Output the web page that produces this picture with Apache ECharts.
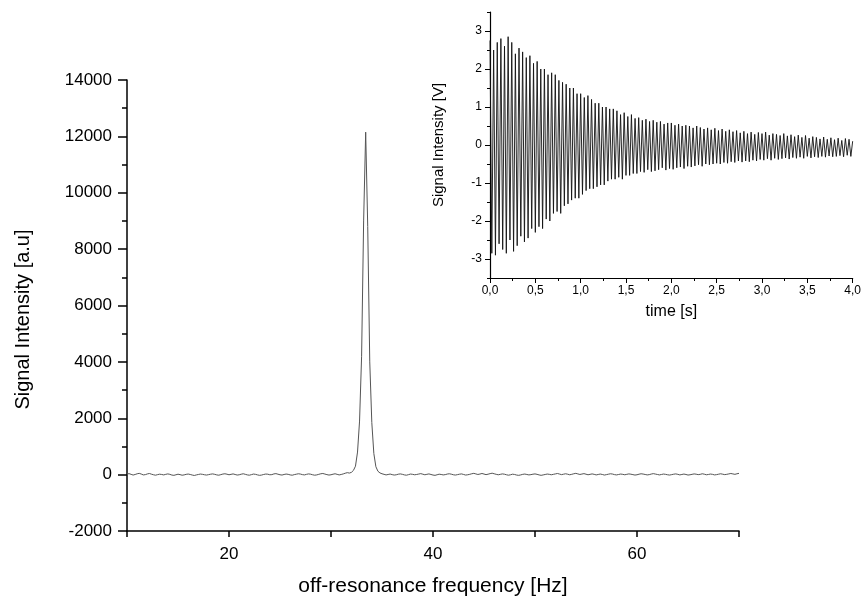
<!DOCTYPE html>
<html>
<head>
<meta charset="utf-8">
<script src="https://cdn.jsdelivr.net/npm/echarts@6/dist/echarts.min.js"></script>
<style>
html,body{margin:0;padding:0;background:#fff;}
#chart{width:864px;height:602px;}
</style>
</head>
<body>
<div id="chart"></div>
<script>
// ---- Main spectrum: intensity sampled every 0.2 Hz from 10 Hz to 70 Hz ----
const specStart = 10;
const specStep = 0.2;
const specIntensity = [
  20, 35, 10, -15, 5, 30, 45, 20, -10, 0, 25, 40, 15, -5, -20, 0, 15, 5, -10, 10,
  25, 10, -15, -25, -5, 15, 0, -20, -10, 10, 20, 5, -15, -30, -10, 5, 20, 10, -5, -15,
  0, 15, 25, 10, -10, -20, 0, 20, 30, 15, -5, 10, 25, 5, -15, -5, 15, 30, 10, -10,
  -20, 0, 20, 10, -10, -25, -15, 5, 20, 15, -5, 0, 25, 35, 15, -5, -15, 5, 20, 10,
  -10, -20, 0, 15, 30, 20, 0, -10, 10, 25, 15, -5, -20, -10, 10, 30, 40, 20, 0, -15,
  -5, 15, 30, 10, -10, 5, 25, 50, 70, 55, 80, 150,
  300, 800, 1900, 4200, 9000, 12150, 8800, 4000, 1850, 750, 280,
  120, 60, 30, 10, -10, 5, 20, 0, -15, -5, 15, 25, 10, -10, -20, 0, 20, 10, -5, 5,
  20, 35, 15, -5, 10, 25, 5, -15, -25, -5, 15, 5, -10, 0, 20, 30, 15, -5, -15, 0,
  15, 25, 5, -15, -5, 10, 30, 45, 25, 5, 20, 40, 20, 0, 15, 35, 50, 30, 10, -5,
  10, 25, 15, -5, -20, -5, 15, 5, -15, -25, -10, 10, 20, 5, -10, 0, 15, 25, 10, -10,
  -25, -10, 5, 20, 10, -5, 10, 25, 40, 20, 0, 15, 30, 15, -5, 10, 30, 45, 25, 5,
  20, 35, 15, -5, 10, 25, 10, -10, 5, 20, 5, -15, 0, 15, 30, 20, 0, -10, 5, 20,
  10, -5, 10, 25, 15, 0, -15, -5, 15, 30, 20, 5, -10, 0, 20, 35, 20, 5, -10, 5,
  20, 10, -5, -15, 0, 15, 25, 10, -10, 5, 20, 5, -15, -5, 10, 25, 15, 0, 10, 30,
  15, -5, 5, 20, 10, -10, 0, 15, 30, 15, 0, 10, 25, 40, 25, 10, 30, 45
];

// ---- Inset FID: voltage sampled every 0.02 s from 0 s to 4 s ----
const fidStart = 0;
const fidStep = 0.02;
const fidVoltage = [
  2.75, -2.85, 2.5, -2.9, 2.7, -2.6, 2.8, -2.75, 2.6, -2.85,
  2.85, -2.5, 2.7, -2.8, 2.4, -2.65, 2.55, -2.4, 2.45, -2.55,
  2.3, -2.45, 2.35, -2.2, 2.15, -2.3, 2.2, -2.15, 2.0, -2.2,
  2.0, -1.95, 1.85, -2.0, 1.9, -1.8, 1.85, -1.75, 1.7, -1.8,
  1.65, -1.6, 1.6, -1.55, 1.5, -1.45, 1.5, -1.4, 1.35, -1.4,
  1.35, -1.3, 1.25, -1.2, 1.3, -1.15, 1.2, -1.15, 1.1, -1.1,
  1.1, -1.05, 1.0, -1.05, 1.0, -0.95, 0.95, -0.9, 0.95, -0.9,
  0.9, -0.85, 0.8, -0.9, 0.85, -0.8, 0.75, -0.8, 0.8, -0.75,
  0.7, -0.75, 0.72, -0.7, 0.65, -0.72, 0.68, -0.65, 0.62, -0.7,
  0.65, -0.68, 0.6, -0.65, 0.62, -0.6, 0.55, -0.66, 0.58, -0.62,
  0.58, -0.64, 0.52, -0.6, 0.55, -0.58, 0.5, -0.62, 0.52, -0.56,
  0.5, -0.58, 0.45, -0.55, 0.5, -0.52, 0.46, -0.56, 0.42, -0.5,
  0.45, -0.52, 0.4, -0.5, 0.44, -0.48, 0.38, -0.5, 0.42, -0.46,
  0.36, -0.48, 0.4, -0.44, 0.35, -0.46, 0.38, -0.42, 0.32, -0.45,
  0.36, -0.42, 0.3, -0.44, 0.34, -0.4, 0.28, -0.42, 0.33, -0.38,
  0.3, -0.4, 0.34, -0.36, 0.26, -0.4, 0.3, -0.35, 0.28, -0.38,
  0.25, -0.36, 0.3, -0.34, 0.24, -0.37, 0.27, -0.33, 0.22, -0.35,
  0.26, -0.32, 0.2, -0.35, 0.25, -0.3, 0.18, -0.34, 0.22, -0.31,
  0.2, -0.33, 0.16, -0.3, 0.21, -0.32, 0.15, -0.29, 0.19, -0.31,
  0.14, -0.3, 0.18, -0.28, 0.12, -0.31, 0.17, -0.27, 0.15, -0.3,
  0.1
];

// tick label values
const mainXLabels = [20, 40, 60];
const insetYLabels = [-3, -2, -1, 0, 1, 2, 3];

const FONT = 'Liberation Sans, Arial, sans-serif';

const specData = specIntensity.map((v, i) => [specStart + i * specStep, v]);
const fidData = fidVoltage.map((v, i) => [fidStart + i * fidStep, v]);

const chart = echarts.init(document.getElementById('chart'), null, {renderer: 'canvas'});
const axisLineStyle = {color: '#000', width: 1.5};

chart.setOption({
  animation: false,
  backgroundColor: '#fff',
  textStyle: {fontFamily: FONT, color: '#000'},
  grid: [
    {left: 127, right: 125, top: 80, bottom: 66},
    {left: 490, right: 8, top: 12, bottom: 324}
  ],
  xAxis: [
    {
      type: 'value', gridIndex: 0, min: 10, max: 70, interval: 10,
      name: 'off-resonance frequency [Hz]', nameLocation: 'middle', nameGap: 45,
      nameTextStyle: {fontSize: 21, color: '#000', fontFamily: FONT},
      axisLine: {show: true, onZero: false, lineStyle: axisLineStyle},
      axisTick: {show: true, inside: false, length: 6, lineStyle: {color: '#000', width: 1.5}},
      axisLabel: {
        fontSize: 17, color: '#000', fontFamily: FONT, margin: 15,
        formatter: v => (mainXLabels.indexOf(v) >= 0 ? String(v) : '')
      },
      splitLine: {show: false}
    },
    {
      type: 'value', gridIndex: 1, min: 0, max: 4, interval: 0.5,
      name: 'time [s]', nameLocation: 'middle', nameGap: 26,
      nameTextStyle: {fontSize: 16, color: '#000', fontFamily: FONT},
      axisLine: {show: true, onZero: false, lineStyle: {color: '#000', width: 1.2}},
      axisTick: {show: true, length: 5, lineStyle: {color: '#000', width: 1}},
      minorTick: {show: true, splitNumber: 2, length: 3, lineStyle: {color: '#000', width: 1}},
      axisLabel: {
        fontSize: 12, color: '#000', fontFamily: FONT, margin: 7,
        formatter: v => v.toFixed(1).replace('.', ',')
      },
      splitLine: {show: false}
    }
  ],
  yAxis: [
    {
      type: 'value', gridIndex: 0, min: -2000, max: 14000, interval: 2000,
      name: 'Signal Intensity [a.u]', nameLocation: 'middle', nameGap: 94, nameRotate: 90,
      nameTextStyle: {fontSize: 20, color: '#000', fontFamily: FONT, padding: [0, 28, 0, 0]},
      axisLine: {show: true, onZero: false, lineStyle: axisLineStyle},
      axisTick: {show: true, length: 9, lineStyle: {color: '#000', width: 1.5}},
      minorTick: {show: true, splitNumber: 2, length: 5, lineStyle: {color: '#000', width: 1.5}},
      axisLabel: {fontSize: 17, color: '#000', fontFamily: FONT, margin: 15, formatter: v => String(v)},
      splitLine: {show: false}
    },
    {
      type: 'value', gridIndex: 1, min: -3.5, max: 3.5, interval: 0.5,
      name: 'Signal Intensity [V]', nameLocation: 'middle', nameGap: 44, nameRotate: 90,
      nameTextStyle: {fontSize: 15, color: '#000', fontFamily: FONT},
      axisLine: {show: true, onZero: false, lineStyle: {color: '#000', width: 1.2}},
      axisTick: {show: true, length: 3, lineStyle: {color: '#000', width: 1}},
      axisLabel: {
        fontSize: 12, color: '#000', fontFamily: FONT, margin: 8,
        formatter: v => (insetYLabels.indexOf(v) >= 0 ? String(v) : '')
      },
      splitLine: {show: false}
    },
    {
      type: 'value', gridIndex: 1, min: -3.5, max: 3.5, interval: 0.5, position: 'left',
      axisLine: {show: false},
      axisTick: {show: true, length: 5, customValues: insetYLabels, lineStyle: {color: '#000', width: 1}},
      axisLabel: {show: false},
      splitLine: {show: false}
    }
  ],
  series: [
    {
      type: 'line', xAxisIndex: 0, yAxisIndex: 0, data: specData,
      showSymbol: false, symbol: 'none', smooth: false,
      lineStyle: {color: '#555', width: 1}
    },
    {
      type: 'line', xAxisIndex: 1, yAxisIndex: 1, data: fidData,
      showSymbol: false, symbol: 'none', smooth: false,
      lineStyle: {color: '#111', width: 0.9}
    }
  ]
});
</script>
</body>
</html>
